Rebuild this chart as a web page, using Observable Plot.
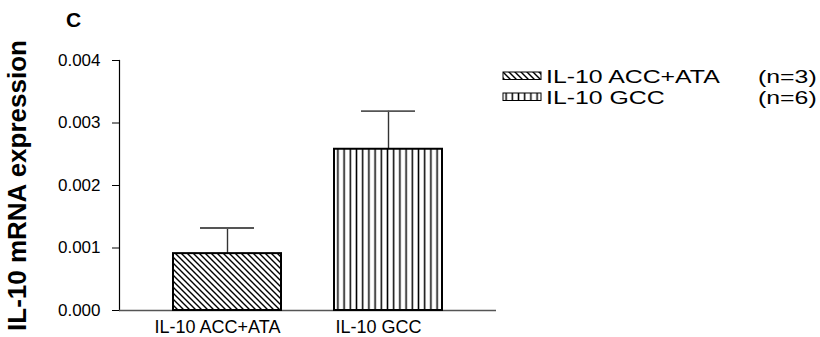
<!DOCTYPE html>
<html><head><meta charset="utf-8">
<script src="https://cdn.jsdelivr.net/npm/d3@7"></script>
<script src="https://cdn.jsdelivr.net/npm/@observablehq/plot@0.6"></script>
<style>
body{margin:0;background:#fff;font-family:"Liberation Sans",Arial,sans-serif;}
#wrap{position:relative;width:820px;height:337px;overflow:hidden;}
#panel{position:absolute;left:66px;top:8px;font-weight:bold;font-size:21px;color:#000;}
#legend{position:absolute;left:0;top:0;}
</style></head><body>
<div id="wrap"><div id="panel">C</div></div>
<script>
// ---- data ----
const categories = ["IL-10 ACC+ATA", "IL-10 GCC"];
const means = [0.00091, 0.00258];
const sems = [0.00041, 0.00061];
const sampleSizes = [3, 6];
const patternIds = ["hatchDiag", "hatchVert"];
const yTicks = [0, 0.001, 0.002, 0.003, 0.004];
const yLabel = "IL-10 mRNA expression";

const data = categories.map((c, i) => ({cat: c, mean: means[i], top: means[i] + sems[i], n: sampleSizes[i], pat: patternIds[i]}));
const fmt = d3.format(".3f");

const plot = Plot.plot({
  width: 820, height: 337,
  marginLeft: 119, marginRight: 324, marginTop: 60, marginBottom: 27,
  style: {fontFamily: "'Liberation Sans', Arial, sans-serif", background: "#fff", color: "#000", overflow: "visible"},
  x: {domain: categories, paddingInner: 0.33, paddingOuter: 0.335, label: null},
  y: {domain: [0, 0.004], label: yLabel},
  marks: [
    Plot.axisY({ticks: yTicks, tickFormat: fmt, tickSize: 7, tickPadding: 12, fontSize: 17,
      label: yLabel, labelAnchor: "center", labelArrow: "none", labelOffset: 112, stroke: "#000"}),
    Plot.axisX({tickSize: 0, tickPadding: 10, fontSize: 18, dx: -10}),
    Plot.frame({anchor: "left", stroke: "#000", strokeWidth: 1.2}),
    Plot.ruleY([0], {stroke: "#555", strokeWidth: 1.6}),
    Plot.ruleX(data, {x: "cat", y1: "mean", y2: "top", stroke: "#333", strokeWidth: 1.4}),
    Plot.tickY(data, {x: "cat", y: "top", insetLeft: 27, insetRight: 27, stroke: "#555", strokeWidth: 1.8}),
    Plot.barY(data.filter(d => d.pat === "hatchDiag"), {x: "cat", y: "mean", fill: "url(#hatchDiag)", stroke: "#000", strokeWidth: 2}),
    Plot.barY(data.filter(d => d.pat === "hatchVert"), {x: "cat", y: "mean", fill: "url(#hatchVert)", stroke: "#000", strokeWidth: 2})
  ]
});

function addPatterns(svg) {
  const defs = svg.insert("defs", ":first-child");
  const p1 = defs.append("pattern").attr("id", "hatchDiag").attr("patternUnits", "userSpaceOnUse")
    .attr("width", 6).attr("height", 6);
  p1.append("rect").attr("width", 6).attr("height", 6).attr("fill", "#fff");
  p1.append("path").attr("d", "M0,0L6,6M-1,5L1,7M5,-1L7,1").attr("stroke", "#000").attr("stroke-width", 1.4);
  const p2 = defs.append("pattern").attr("id", "hatchVert").attr("patternUnits", "userSpaceOnUse")
    .attr("width", 6.2).attr("height", 10);
  p2.append("rect").attr("width", 6.2).attr("height", 10).attr("fill", "#fff");
  p2.append("path").attr("d", "M3.1,0V10").attr("stroke", "#000").attr("stroke-width", 1.5);
}
addPatterns(d3.select(plot));

d3.select(plot).selectAll('g[aria-label="y-axis label"] text')
  .style("font-size", "26px").style("font-weight", "bold");

document.getElementById("wrap").appendChild(plot);

// ---- legend (overlay) ----
const leg = d3.select("#wrap").append("svg").attr("id", "legend").attr("width", 820).attr("height", 337);
const rows = leg.selectAll("g.row").data(data).join("g").attr("class", "row")
  .attr("transform", (d, i) => `translate(503,${72 + i * 21})`);
rows.append("rect").attr("width", 38).attr("height", 7.5)
  .attr("fill", d => `url(#${d.pat})`).attr("stroke", "#000").attr("stroke-width", 1);
rows.append("text").attr("transform", "translate(43,4.5) scale(1.38,1)").attr("dy", "0.36em")
  .attr("font-family", "'Liberation Sans', Arial, sans-serif").attr("font-size", 18)
  .text(d => d.cat);
rows.append("text").attr("transform", "translate(255,4.5) scale(1.38,1)").attr("dy", "0.36em")
  .attr("font-family", "'Liberation Sans', Arial, sans-serif").attr("font-size", 18)
  .text(d => `(n=${d.n})`);
</script>
</body></html>
